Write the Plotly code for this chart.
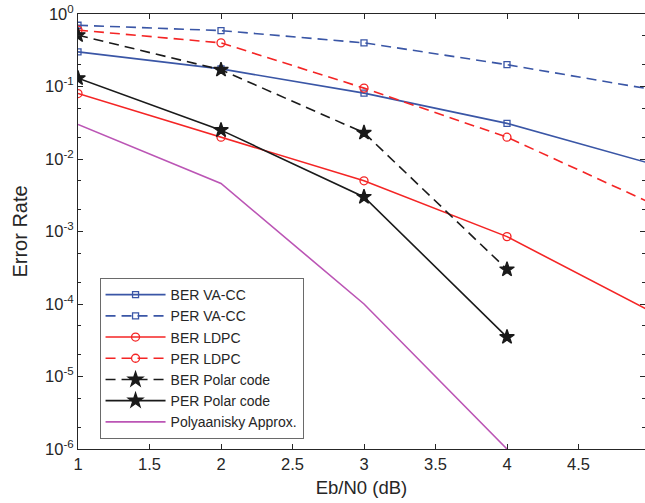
import plotly.graph_objects as go

snr = [1, 2, 3, 4, 5]
snr_polar = [1, 2, 3, 4]

ber_vacc = [0.30, 0.175, 0.081, 0.031, 0.0087]
per_vacc = [0.70, 0.59, 0.40, 0.20, 0.092]
ber_ldpc = [0.080, 0.020, 0.0050, 0.00085, 0.000080]
per_ldpc = [0.60, 0.40, 0.095, 0.020, 0.0025]
ber_polar = [0.51, 0.17, 0.023, 0.00030]
per_polar = [0.13, 0.025, 0.0030, 0.000035]
poly_approx = [0.030, 0.0046, 0.00010, 0.000001]

BLUE = "#3A56A6"
RED = "#F42525"
MAG = "#BB55B5"
BLACK = "#1A1A1A"

fig = go.Figure()

def add(name, x, y, color, dash, symbol, size):
    fig.add_trace(go.Scatter(
        x=x, y=y, name=name, mode="lines+markers" if symbol else "lines",
        line=dict(color=color, width=1.6, dash=dash),
        marker=dict(symbol=symbol or "circle", size=size, color=color,
                    line=dict(color=color, width=1.3)),
    ))

add("BER VA-CC", snr, ber_vacc, BLUE, "solid", "square-open", 6)
add("PER VA-CC", snr, per_vacc, BLUE, "10px,6px", "square-open", 6)
add("BER LDPC", snr, ber_ldpc, RED, "solid", "circle-open", 8)
add("PER LDPC", snr, per_ldpc, RED, "10px,6px", "circle-open", 8)
add("BER Polar code", snr_polar, ber_polar, BLACK, "10px,6px", "star", 11)
add("PER Polar code", snr_polar, per_polar, BLACK, "solid", "star", 11)
add("Polyaanisky Approx.", snr_polar, poly_approx, MAG, "solid", None, 1)

xt = [1, 1.5, 2, 2.5, 3, 3.5, 4, 4.5]
yt = [1e-6, 1e-5, 1e-4, 1e-3, 1e-2, 1e-1, 1]
ytxt = ["10<sup>-6</sup>", "10<sup>-5</sup>", "10<sup>-4</sup>", "10<sup>-3</sup>",
        "10<sup>-2</sup>", "10<sup>-1</sup>", "10<sup>0</sup>"]

fig.update_layout(
    width=645, height=503,
    margin=dict(l=78, r=0, t=14, b=54, autoexpand=False),
    paper_bgcolor="white", plot_bgcolor="white",
    font=dict(family="Liberation Sans", size=16, color="#262626"),
    showlegend=True,
    legend=dict(x=0.038, y=0.393, xanchor="left", yanchor="top",
                bgcolor="white", bordercolor="#6a6a6a", borderwidth=1,
                font=dict(family="Liberation Sans", size=14, color="#262626"), itemwidth=60,
                tracegroupgap=0, traceorder="normal"),
    xaxis=dict(range=[1, 4.965], tickvals=xt, ticktext=[str(v) for v in xt],
               ticks="inside", ticklen=5, tickcolor="#262626", automargin=False,
               tickfont=dict(family="Liberation Sans", size=16.5),
               showline=True, linecolor="#262626", linewidth=1, mirror="ticks",
               showgrid=False, zeroline=False,
               title=dict(text="Eb/N0 (dB)", standoff=9,
                          font=dict(family="Liberation Sans", size=18.5))),
    yaxis=dict(type="log", range=[-6, 0], tickvals=yt, ticktext=ytxt,
               ticks="inside", ticklen=5, tickcolor="#262626", automargin=False,
               tickfont=dict(family="Liberation Sans", size=16.5),
               showline=True, linecolor="#262626", linewidth=1, mirror="ticks",
               showgrid=False, zeroline=False,
               minor=dict(ticks="inside", ticklen=3, tickcolor="#262626", showgrid=False),
               title=dict(text="Error Rate", standoff=12,
                          font=dict(family="Liberation Sans", size=20))),
)

fig.write_html("out.html", config={"displayModeBar": False},
               post_script="document.body.style.margin='0';")
